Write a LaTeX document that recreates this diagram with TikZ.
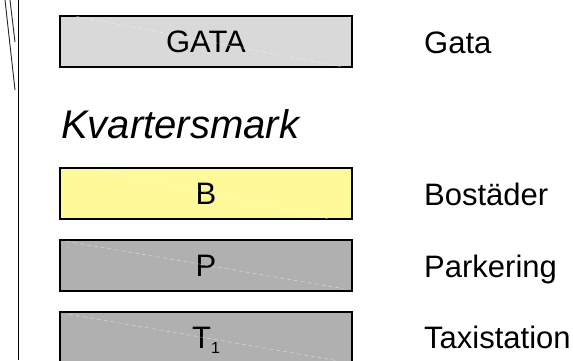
\documentclass[tikz,border=0pt]{standalone}
\usepackage{fontspec}
\setmainfont{Liberation Sans}
\begin{document}
\begin{tikzpicture}[x=1pt,y=-1pt,
  zone/.style={draw=black,line width=1.4pt,rectangle,minimum width=292pt,minimum height=51pt,inner sep=0pt,
    font=\fontsize{31}{31}\selectfont,text height=22pt,text depth=0pt},
  legend/.style={anchor=base west,inner sep=0pt,font=\fontsize{31}{31}\selectfont},
  ghost/.style={dashed,dash pattern=on 4pt off 3pt,line width=0.6pt,draw=white,opacity=0.45},
  edge/.style={line width=0.9pt,draw=black!85}]
\useasboundingbox (0,0) rectangle (573,360);
\clip (0,0) rectangle (573,360);
% left edge lines
\coordinate (v1) at (18.3,0);
\coordinate (v2) at (18.3,360);
\draw[line width=1.2pt] (v1) -- (v2);
\coordinate (s1a) at (5,0);
\coordinate (s1b) at (15,90);
\coordinate (s2a) at (10,0);
\coordinate (s2b) at (15,42);
\draw[edge] (s1a) -- (s1b);
\draw[edge] (s2a) -- (s2b);
% boxes
\node[zone,fill=black!15] (gata) at (206,41.5) {GATA};
\path (gata.north west) ++(17,1) coordinate (g1) (gata.south east) ++(-12,-1) coordinate (g2);
\draw[ghost] (g1) -- (g2);
\node[anchor=base west,inner sep=0pt,font=\fontsize{40}{40}\selectfont\itshape] (kv) at (61,138) {Kvartersmark};
\node[zone,fill=yellow!40] (b) at (206,193.5) {B};
\path (b.north west) ++(40,2) coordinate (b1) (b.south east) ++(-25,-1) coordinate (b2);
\draw[ghost] (b1) -- (b2);
\node[zone,fill=black!31] (p) at (206,265.5) {P};
\path (p.north west) ++(7,2) coordinate (p1) (p.south east) ++(-9,-3) coordinate (p2);
\draw[ghost] (p1) -- (p2);
\node[zone,fill=black!31] (t) at (206,337.5) {T\raisebox{-5pt}{\fontsize{16}{16}\selectfont 1}};
\path (t.north west) ++(10,3) coordinate (t1) (t.south east) ++(-15,-3) coordinate (t2);
\draw[ghost] (t1) -- (t2);
% legend
\node[legend] (lg) at (424,53) {Gata};
\node[legend] (lb) at (424,205) {Bostäder};
\node[legend] (lp) at (424,277) {Parkering};
\node[legend] (lt) at (424,348) {Taxistation};
\end{tikzpicture}
\end{document}
